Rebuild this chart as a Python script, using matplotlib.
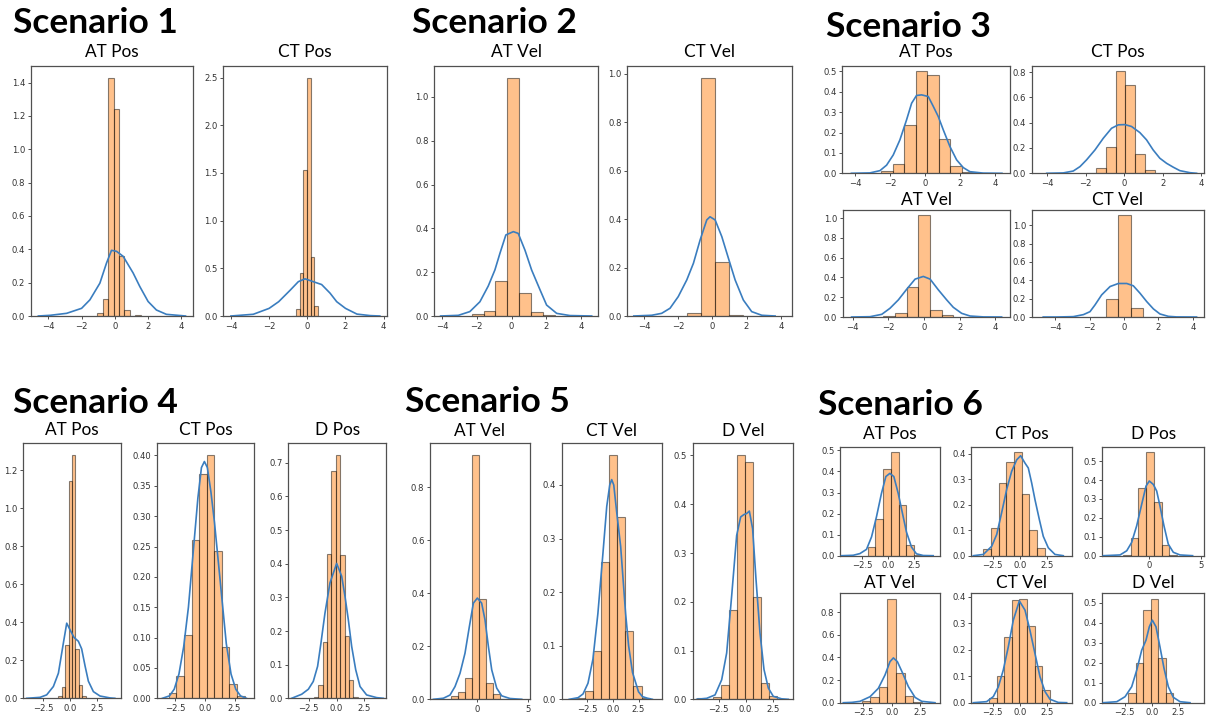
import matplotlib
matplotlib.use("Agg")
import matplotlib.pyplot as plt
from matplotlib.ticker import MultipleLocator
import numpy as np

# ---------------------------------------------------------------- data
# Histogram bin edges / densities and KDE curve samples for every panel.

# Scenario 1
s1_at_pos_edges = [-1.06, -0.733, -0.406, -0.079, 0.248, 0.575, 0.902, 1.229, 1.556]
s1_at_pos_dens = [0.02, 0.10, 1.43, 1.24, 0.36, 0.035, 0.0, 0.005]
s1_at_pos_kx = [-4.6, -3.9, -2.9, -2.0, -1.5, -0.9, -0.5, -0.2, 0.1, 0.5, 1.1, 1.5, 2.0, 2.5, 3.1, 4.25]
s1_at_pos_ky = [0.0, 0.004, 0.016, 0.046, 0.097, 0.197, 0.318, 0.394, 0.388, 0.358, 0.258, 0.177, 0.087, 0.036, 0.01, 0.0]

s1_ct_pos_edges = [-0.795, -0.6, -0.405, -0.21, -0.015, 0.18, 0.375, 0.57]
s1_ct_pos_dens = [0.005, 0.07, 0.45, 1.53, 2.5, 0.62, 0.11]
s1_ct_pos_kx = [-4.0, -2.83, -2.0, -1.5, -0.9, -0.47, -0.12, 0.31, 0.75, 1.19, 1.54, 2.0, 2.6, 3.3, 3.8]
s1_ct_pos_ky = [0.0, 0.018, 0.08, 0.15, 0.27, 0.36, 0.39, 0.36, 0.33, 0.24, 0.15, 0.08, 0.02, 0.004, 0.0]

# Scenario 2
s2_at_vel_edges = [-2.29, -1.61, -0.93, -0.25, 0.43, 1.11, 1.79, 2.47]
s2_at_vel_dens = [0.008, 0.025, 0.158, 1.088, 0.105, 0.018, 0.004]
s2_at_vel_kx = [-4.08, -3.06, -2.4, -1.82, -1.34, -0.96, -0.67, -0.33, 0.1, 0.38, 0.77, 1.15, 1.63, 2.01, 2.59, 3.35, 4.6]
s2_at_vel_ky = [0.0, 0.003, 0.02, 0.065, 0.137, 0.21, 0.286, 0.37, 0.385, 0.377, 0.30, 0.21, 0.12, 0.05, 0.012, 0.002, 0.0]

s2_ct_vel_edges = [-1.48, -0.66, 0.16, 0.98, 1.80, 2.62]
s2_ct_vel_dens = [0.013, 0.985, 0.225, 0.006, 0.002]
s2_ct_vel_kx = [-4.6, -3.55, -2.97, -2.48, -2.0, -1.5, -1.11, -0.72, -0.33, -0.14, 0.16, 0.55, 0.94, 1.33, 1.81, 2.3, 2.89, 3.67]
s2_ct_vel_ky = [0.0, 0.003, 0.011, 0.032, 0.08, 0.149, 0.218, 0.314, 0.397, 0.41, 0.397, 0.328, 0.238, 0.149, 0.066, 0.018, 0.003, 0.0]

# Scenario 3
s3_at_pos_edges = [-2.51, -1.85, -1.19, -0.53, 0.13, 0.79, 1.45, 2.11, 2.77]
s3_at_pos_dens = [0.01, 0.048, 0.238, 0.503, 0.483, 0.17, 0.036, 0.005]
s3_at_pos_kx = [-4.2, -3.14, -2.57, -2.19, -1.81, -1.43, -1.05, -0.76, -0.48, -0.19, 0.19, 0.48, 0.76, 1.05, 1.43, 1.81, 2.19, 2.57, 3.33, 4.4]
s3_at_pos_ky = [0.0, 0.002, 0.013, 0.04, 0.09, 0.164, 0.262, 0.344, 0.382, 0.385, 0.377, 0.328, 0.279, 0.213, 0.131, 0.066, 0.028, 0.008, 0.001, 0.0]

s3_ct_pos_edges = [-1.98, -1.47, -0.96, -0.45, 0.06, 0.57, 1.08, 1.59]
s3_ct_pos_dens = [0.003, 0.04, 0.21, 0.81, 0.70, 0.155, 0.025]
s3_ct_pos_kx = [-4.03, -3.17, -2.65, -2.3, -1.96, -1.52, -1.09, -0.66, -0.31, 0.03, 0.38, 0.81, 1.16, 1.5, 1.85, 2.2, 2.55, 2.89, 3.41, 3.76]
s3_ct_pos_ky = [0.0, 0.003, 0.018, 0.053, 0.106, 0.185, 0.277, 0.356, 0.383, 0.385, 0.37, 0.322, 0.264, 0.185, 0.119, 0.079, 0.048, 0.021, 0.005, 0.0]

s3_at_vel_edges = [-2.28, -1.63, -0.97, -0.32, 0.34, 0.99, 1.65]
s3_at_vel_dens = [0.01, 0.042, 0.30, 1.03, 0.068, 0.02]
s3_at_vel_kx = [-4.06, -3.03, -2.37, -1.91, -1.44, -0.97, -0.5, -0.04, 0.34, 0.8, 1.27, 1.64, 2.11, 2.58, 3.33, 4.35]
s3_at_vel_ky = [0.0, 0.003, 0.027, 0.088, 0.173, 0.281, 0.383, 0.41, 0.383, 0.275, 0.173, 0.098, 0.037, 0.01, 0.001, 0.0]

s3_ct_vel_edges = [-1.78, -1.05, -0.33, 0.40, 1.13, 1.86]
s3_ct_vel_dens = [0.005, 0.195, 1.11, 0.10, 0.004]
s3_ct_vel_kx = [-4.7, -3.91, -2.95, -2.36, -1.98, -1.69, -1.3, -0.81, -0.33, 0.16, 0.54, 0.93, 1.32, 1.71, 2.09, 2.58, 3.06, 4.22]
s3_ct_vel_ky = [0.0, 0.0, 0.004, 0.026, 0.058, 0.131, 0.241, 0.332, 0.365, 0.365, 0.34, 0.259, 0.168, 0.088, 0.033, 0.007, 0.001, 0.0]

# Scenario 4
s4_at_pos_edges = [-1.09, -0.77, -0.45, -0.13, 0.19, 0.51, 0.83, 1.15, 1.47, 1.79]
s4_at_pos_dens = [0.01, 0.06, 0.28, 1.14, 1.277, 0.26, 0.07, 0.013, 0.003]
s4_at_pos_kx = [-4.06, -2.81, -2.19, -1.56, -1.09, -0.625, -0.31, 0.0, 0.375, 0.78, 1.09, 1.41, 1.72, 2.19, 2.81, 3.75, 4.2]
s4_at_pos_ky = [0.0, 0.005, 0.018, 0.062, 0.132, 0.29, 0.395, 0.36, 0.32, 0.30, 0.26, 0.17, 0.09, 0.035, 0.012, 0.002, 0.0]

s4_ct_pos_edges = [-3.05, -2.41, -1.77, -1.13, -0.49, 0.15, 0.79, 1.43, 2.07, 2.71, 3.35]
s4_ct_pos_dens = [0.008, 0.037, 0.105, 0.26, 0.369, 0.40, 0.242, 0.085, 0.024, 0.003]
s4_ct_pos_kx = [-3.6, -3.0, -2.6, -2.2, -1.8, -1.4, -1.0, -0.6, -0.3, -0.05, 0.2, 0.5, 0.8, 1.1, 1.4, 1.8, 2.2, 2.6, 3.0, 3.5]
s4_ct_pos_ky = [0.0, 0.004, 0.015, 0.04, 0.085, 0.15, 0.24, 0.33, 0.38, 0.39, 0.38, 0.34, 0.29, 0.23, 0.17, 0.09, 0.04, 0.015, 0.004, 0.0]

s4_d_pos_edges = [-2.04, -1.646, -1.252, -0.858, -0.464, -0.07, 0.324, 0.718, 1.112, 1.506, 1.9]
s4_d_pos_dens = [0.003, 0.04, 0.167, 0.428, 0.675, 0.722, 0.425, 0.185, 0.055, 0.005]
s4_d_pos_kx = [-4.04, -3.14, -2.54, -2.1, -1.71, -1.41, -1.05, -0.6, 0.0, 0.45, 0.75, 1.05, 1.35, 1.71, 2.1, 2.69, 3.59, 4.19]
s4_d_pos_ky = [0.0, 0.012, 0.027, 0.05, 0.095, 0.164, 0.253, 0.343, 0.401, 0.363, 0.303, 0.233, 0.154, 0.085, 0.035, 0.01, 0.002, 0.0]

# Scenario 5
s5_at_vel_edges = [-2.55, -1.86, -1.18, -0.49, 0.19, 0.88, 1.56, 2.25, 2.93]
s5_at_vel_dens = [0.012, 0.027, 0.082, 0.92, 0.38, 0.06, 0.02, 0.002]
s5_at_vel_kx = [-4.31, -3.33, -2.68, -2.19, -1.7, -1.21, -0.78, -0.39, 0.0, 0.42, 0.75, 1.08, 1.41, 1.9, 2.39, 3.2, 4.35]
s5_at_vel_ky = [0.0, 0.004, 0.016, 0.048, 0.098, 0.174, 0.275, 0.363, 0.382, 0.363, 0.30, 0.20, 0.111, 0.042, 0.013, 0.003, 0.0]

s5_ct_vel_edges = [-3.52, -2.73, -1.94, -1.15, -0.36, 0.43, 1.22, 2.01, 2.8, 3.59]
s5_ct_vel_dens = [0.003, 0.016, 0.091, 0.256, 0.455, 0.34, 0.127, 0.025, 0.003]
s5_ct_vel_kx = [-4.22, -3.36, -2.88, -2.4, -1.92, -1.44, -0.96, -0.58, -0.29, -0.1, 0.1, 0.38, 0.77, 1.25, 1.54, 1.92, 2.5, 2.88, 3.36, 3.84]
s5_ct_vel_ky = [0.0, 0.003, 0.01, 0.03, 0.075, 0.16, 0.27, 0.36, 0.40, 0.41, 0.40, 0.35, 0.285, 0.16, 0.10, 0.05, 0.014, 0.005, 0.002, 0.0]

s5_d_vel_edges = [-4.51, -3.77, -3.04, -2.3, -1.57, -0.83, -0.1, 0.64, 1.37, 2.11, 2.85]
s5_d_vel_dens = [0.002, 0.0, 0.004, 0.03, 0.183, 0.5, 0.487, 0.21, 0.033, 0.007]
s5_d_vel_kx = [-4.5, -3.59, -2.82, -2.21, -1.75, -1.29, -0.83, -0.46, -0.15, 0.09, 0.34, 0.64, 0.95, 1.32, 1.69, 2.09, 2.55, 3.31, 3.93]
s5_d_vel_ky = [0.0, 0.002, 0.009, 0.04, 0.095, 0.212, 0.336, 0.374, 0.379, 0.381, 0.386, 0.35, 0.247, 0.136, 0.061, 0.023, 0.006, 0.001, 0.0]

# Scenario 6
s6_at_pos_edges = [-1.95, -1.21, -0.48, 0.26, 0.99, 1.73, 2.46, 3.2]
s6_at_pos_dens = [0.041, 0.176, 0.41, 0.493, 0.242, 0.052, 0.005]
s6_at_pos_kx = [-4.45, -3.34, -2.7, -2.07, -1.59, -1.12, -0.64, -0.22, 0.16, 0.54, 0.96, 1.37, 1.75, 2.23, 2.7, 3.34, 4.3]
s6_at_pos_ky = [0.0, 0.002, 0.01, 0.03, 0.089, 0.184, 0.296, 0.376, 0.391, 0.376, 0.296, 0.2, 0.112, 0.041, 0.009, 0.001, 0.0]

s6_ct_pos_edges = [-3.35, -2.65, -1.95, -1.25, -0.55, 0.15, 0.85, 1.55, 2.25]
s6_ct_pos_dens = [0.025, 0.109, 0.285, 0.366, 0.407, 0.242, 0.102, 0.03]
s6_ct_pos_kx = [-4.27, -3.35, -2.59, -2.13, -1.68, -1.22, -0.76, -0.3, 0.06, 0.46, 0.76, 1.07, 1.37, 1.77, 2.13, 2.59, 3.2, 3.96]
s6_ct_pos_ky = [0.0, 0.005, 0.037, 0.083, 0.168, 0.259, 0.331, 0.376, 0.392, 0.363, 0.344, 0.285, 0.22, 0.142, 0.076, 0.031, 0.005, 0.0]

s6_d_pos_edges = [-2.585, -1.83, -1.075, -0.32, 0.435, 1.19, 1.945, 2.7]
s6_d_pos_dens = [0.005, 0.091, 0.36, 0.549, 0.286, 0.058, 0.005]
s6_d_pos_kx = [-4.48, -2.85, -2.2, -1.72, -1.23, -0.74, -0.32, 0.0, 0.39, 0.72, 1.04, 1.43, 1.85, 2.34, 2.99, 4.22]
s6_d_pos_ky = [0.0, 0.004, 0.026, 0.07, 0.158, 0.272, 0.368, 0.395, 0.377, 0.342, 0.263, 0.158, 0.061, 0.018, 0.004, 0.0]

s6_at_vel_edges = [-2.65, -1.89, -1.14, -0.38, 0.38, 1.13, 1.89, 2.65]
s6_at_vel_dens = [0.012, 0.047, 0.139, 0.921, 0.266, 0.059, 0.005]
s6_at_vel_kx = [-4.27, -3.5, -2.8, -1.91, -1.18, -0.59, -0.15, 0.15, 0.5, 0.97, 1.47, 2.06, 2.65, 3.82]
s6_at_vel_ky = [0.0, 0.003, 0.012, 0.053, 0.127, 0.245, 0.363, 0.396, 0.363, 0.26, 0.142, 0.047, 0.012, 0.0]

s6_ct_vel_edges = [-2.83, -2.135, -1.44, -0.745, -0.05, 0.645, 1.34, 2.035, 2.73]
s6_ct_vel_dens = [0.016, 0.1, 0.249, 0.39, 0.394, 0.289, 0.138, 0.048]
s6_ct_vel_kx = [-4.27, -3.05, -2.44, -1.98, -1.53, -1.07, -0.61, -0.06, 0.46, 0.91, 1.37, 1.83, 2.29, 2.74, 3.5, 4.27]
s6_ct_vel_ky = [0.0, 0.004, 0.023, 0.06, 0.123, 0.211, 0.312, 0.385, 0.35, 0.274, 0.186, 0.098, 0.042, 0.013, 0.001, 0.0]

s6_d_vel_edges = [-2.18, -1.48, -0.78, -0.08, 0.616, 1.31, 2.01]
s6_d_vel_dens = [0.048, 0.199, 0.465, 0.52, 0.221, 0.048]
s6_d_vel_kx = [-4.5, -3.25, -2.48, -1.86, -1.39, -0.93, -0.53, -0.22, 0.06, 0.4, 0.77, 1.15, 1.55, 2.01, 2.64, 3.57]
s6_d_vel_ky = [0.0, 0.005, 0.03, 0.08, 0.163, 0.262, 0.312, 0.379, 0.412, 0.379, 0.279, 0.171, 0.08, 0.027, 0.005, 0.0]

scenario_titles = ["Scenario 1", "Scenario 2", "Scenario 3",
                   "Scenario 4", "Scenario 5", "Scenario 6"]

# ---------------------------------------------------------------- layout
W, H = 1214, 719
fig = plt.figure(figsize=(W / 100, H / 100), dpi=100)
fig.patch.set_facecolor("white")

# (title, edges, densities, kde x, kde y, box px [l, t, r, b], xlim, xstep, ystep, title gap px)
panels = [
    ("AT Pos", s1_at_pos_edges, s1_at_pos_dens, s1_at_pos_kx, s1_at_pos_ky, (30.7, 65.7, 193, 316), (-5.06, 4.7), 2, 0.2, 8.4),
    ("CT Pos", s1_ct_pos_edges, s1_ct_pos_dens, s1_ct_pos_kx, s1_ct_pos_ky, (223.3, 65.7, 387.3, 316), (-4.4, 4.19), 2, 0.5, 8.4),
    ("AT Vel", s2_at_vel_edges, s2_at_vel_dens, s2_at_vel_kx, s2_at_vel_ky, (434.3, 65.7, 598.3, 316), (-4.44, 4.98), 2, 0.2, 8.4),
    ("CT Vel", s2_ct_vel_edges, s2_ct_vel_dens, s2_ct_vel_kx, s2_ct_vel_ky, (627.3, 65.7, 791.7, 316), (-4.98, 4.64), 2, 0.2, 8.4),
    ("AT Pos", s3_at_pos_edges, s3_at_pos_dens, s3_at_pos_kx, s3_at_pos_ky, (842.3, 65.7, 1010, 173.3), (-4.72, 4.86), 2, 0.1, 9.0),
    ("CT Pos", s3_ct_pos_edges, s3_ct_pos_dens, s3_ct_pos_kx, s3_ct_pos_ky, (1031.7, 65.7, 1204.3, 173.3), (-4.81, 4.16), 2, 0.2, 9.0),
    ("AT Vel", s3_at_vel_edges, s3_at_vel_dens, s3_at_vel_kx, s3_at_vel_ky, (842.7, 210, 1010, 317), (-4.56, 4.82), 2, 0.2, 5.0),
    ("CT Vel", s3_ct_vel_edges, s3_ct_vel_dens, s3_ct_vel_kx, s3_ct_vel_ky, (1031.7, 210, 1204.3, 317), (-5.37, 4.67), 2, 0.2, 5.0),
    ("AT Pos", s4_at_pos_edges, s4_at_pos_dens, s4_at_pos_kx, s4_at_pos_ky, (23.3, 443.3, 120.7, 698.3), (-4.38, 4.75), 2.5, 0.2, 8.3),
    ("CT Pos", s4_ct_pos_edges, s4_ct_pos_dens, s4_ct_pos_kx, s4_ct_pos_ky, (156.7, 443.3, 254, 698.3), (-4.08, 4.14), 2.5, 0.05, 8.3),
    ("D Pos", s4_d_pos_edges, s4_d_pos_dens, s4_d_pos_kx, s4_d_pos_ky, (288.3, 443.3, 386, 698.3), (-4.34, 4.43), 2.5, 0.1, 8.3),
    ("AT Vel", s5_at_vel_edges, s5_at_vel_dens, s5_at_vel_kx, s5_at_vel_ky, (430, 443.3, 530, 699.3), (-4.64, 5.16), 5, 0.2, 7.0),
    ("CT Vel", s5_ct_vel_edges, s5_ct_vel_dens, s5_ct_vel_kx, s5_ct_vel_ky, (561.7, 443.3, 661.7, 699.3), (-4.95, 4.75), 2.5, 0.1, 7.0),
    ("D Vel", s5_d_vel_edges, s5_d_vel_dens, s5_d_vel_kx, s5_d_vel_ky, (692.7, 443.3, 793.3, 699.3), (-4.88, 4.39), 2.5, 0.1, 7.0),
    ("AT Pos", s6_at_pos_edges, s6_at_pos_dens, s6_at_pos_kx, s6_at_pos_ky, (840, 446.7, 940, 555.7), (-4.6, 4.95), 2.5, 0.1, 7.4),
    ("CT Pos", s6_ct_pos_edges, s6_ct_pos_dens, s6_ct_pos_kx, s6_ct_pos_ky, (971, 446.7, 1071.7, 555.7), (-4.48, 4.73), 2.5, 0.1, 7.4),
    ("D Pos", s6_d_pos_edges, s6_d_pos_dens, s6_d_pos_kx, s6_d_pos_ky, (1102.3, 446.7, 1204.3, 555.7), (-4.58, 5.36), 5, 0.1, 7.4),
    ("AT Vel", s6_at_vel_edges, s6_at_vel_dens, s6_at_vel_kx, s6_at_vel_ky, (840, 593.3, 940, 702.7), (-4.56, 4.26), 2.5, 0.2, 5.6),
    ("CT Vel", s6_ct_vel_edges, s6_ct_vel_dens, s6_ct_vel_kx, s6_ct_vel_ky, (971, 593.3, 1071.7, 702.7), (-4.48, 4.73), 2.5, 0.1, 5.6),
    ("D Vel", s6_d_vel_edges, s6_d_vel_dens, s6_d_vel_kx, s6_d_vel_ky, (1102.3, 593.3, 1204.3, 702.7), (-4.6, 4.9), 2.5, 0.1, 5.6),
]

# heading anchor points (left, baseline) in pixels
heading_pos = [(13, 33), (412, 33), (826, 37), (13, 413), (405, 412), (818, 415)]

BAR_FACE = "#ff7f0e"
KDE_COLOR = "#3a7dbf"
SPINE = "#505050"
TITLE_FONT = "Lato"


def px_to_fig(x, y):
    return x / W, 1 - y / H


for title, edges, dens, kx, ky, box, xlim, xstep, ystep, gap in panels:
    l, t, r, b = box
    ax = fig.add_axes([l / W, 1 - b / H, (r - l) / W, (b - t) / H])
    e = np.asarray(edges)
    ax.bar(e[:-1], dens, width=np.diff(e), align="edge",
           color=BAR_FACE, edgecolor="black", linewidth=0.8, alpha=0.48, zorder=2)
    ax.plot(kx, ky, color=KDE_COLOR, linewidth=1.2, zorder=3)
    ax.set_xlim(*xlim)
    ax.xaxis.set_major_locator(MultipleLocator(xstep))
    ax.yaxis.set_major_locator(MultipleLocator(ystep))
    ax.tick_params(labelsize=6.1, length=2.5, width=0.6, pad=1.5,
                   colors="#333333")
    for sp in ax.spines.values():
        sp.set_color(SPINE)
        sp.set_linewidth(0.9)
    cx, cy = px_to_fig((l + r) / 2, t - gap)
    fig.text(cx, cy, title, ha="center", va="baseline",
             fontsize=12.4, family=TITLE_FONT, color="black")

for text, (hx, hy) in zip(scenario_titles, heading_pos):
    fx, fy = px_to_fig(hx, hy)
    fig.text(fx, fy, text, ha="left", va="baseline", fontsize=25.5,
             family=TITLE_FONT, fontweight="bold", color="black")

fig.savefig("out.png", dpi=100, facecolor="white")
